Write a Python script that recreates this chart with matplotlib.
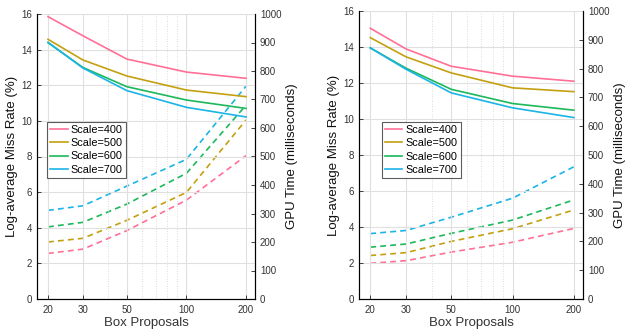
import matplotlib
matplotlib.use("Agg")
import matplotlib.pyplot as plt
from matplotlib.ticker import FixedLocator, NullFormatter

proposals = [20, 30, 50, 100, 200]
labels = ["Scale=400", "Scale=500", "Scale=600", "Scale=700"]
colors = ["#ff6f96", "#c4a010", "#1cb85a", "#1ab4e6"]

# left panel
miss_a = [
    [15.85, 14.78, 13.47, 12.74, 12.39],
    [14.58, 13.42, 12.52, 11.73, 11.36],
    [14.39, 13.00, 11.92, 11.17, 10.70],
    [14.41, 12.97, 11.70, 10.76, 10.22],
]
gpu_a = [
    [160, 175, 240, 347, 503],
    [200, 213, 276, 374, 628],
    [253, 269, 333, 441, 680],
    [311, 327, 396, 490, 747],
]
# right panel
miss_b = [
    [15.04, 13.89, 12.93, 12.38, 12.10],
    [14.52, 13.45, 12.56, 11.73, 11.52],
    [13.95, 12.82, 11.65, 10.86, 10.49],
    [13.95, 12.76, 11.45, 10.62, 10.08],
]
gpu_b = [
    [124, 133, 163, 197, 245],
    [151, 161, 200, 244, 309],
    [180, 191, 228, 274, 344],
    [227, 238, 284, 350, 459],
]

plt.rcParams['font.family'] = ['Liberation Sans', 'DejaVu Sans']

fig = plt.figure(figsize=(6.25, 3.32), dpi=100)
rects = [
    [37/625, 33/332, 218/625, 285/332],
    [359/625, 33/332, 224/625, 288/332],
]
legend_pos = [(0.046, 0.425), (0.101, 0.42)]

for rect, miss, gpu, lp in zip(rects, [miss_a, miss_b], [gpu_a, gpu_b], legend_pos):
    ax = fig.add_axes(rect)
    ax2 = ax.twinx()
    ax.set_xscale('log')
    ax.set_xlim(17.6, 222)
    ax.set_ylim(0, 16)
    ax2.set_ylim(0, 1000)
    handles = []
    for i in range(4):
        h, = ax.plot(proposals, miss[i], color=colors[i], lw=1.2, label=labels[i])
        handles.append(h)
        ax2.plot(proposals, gpu[i], color=colors[i], lw=1.2, ls=(0, (3.5, 2.5)))
    ax.xaxis.set_major_locator(FixedLocator(proposals))
    ax.xaxis.set_minor_locator(FixedLocator([40, 60, 70, 80, 90]))
    ax.xaxis.set_major_formatter(matplotlib.ticker.FixedFormatter([str(p) for p in proposals]))
    ax.xaxis.set_minor_formatter(NullFormatter())
    ax.set_yticks(range(0, 17, 2))
    ax2.set_yticks(range(0, 1001, 100))
    ax.grid(True, which='major', color='#e0e0e0', lw=0.8)
    ax.grid(True, which='minor', axis='x', color='#d0d0d0', lw=0.6, ls=(0, (1, 2)))
    ax.set_axisbelow(True)
    for a in (ax, ax2):
        a.spines['top'].set_visible(False)
        for s in ('left', 'right', 'bottom'):
            a.spines[s].set_linewidth(0.8)
        a.tick_params(direction='in', labelsize=7, length=3, width=0.6,
                      colors='#222222', labelcolor='#333333')
    ax.tick_params(which='minor', length=0)
    ax.tick_params(axis='x', pad=4)
    ax.set_xlabel("Box Proposals", fontsize=9.5, color='#333333', labelpad=2)
    ax.set_ylabel("Log-average Miss Rate (%)", fontsize=9.5, color='#111111', labelpad=2)
    ax2.set_ylabel("GPU Time (milliseconds)", fontsize=9.5, color='#111111', labelpad=3)
    leg = ax.legend(handles=handles, loc='lower left', bbox_to_anchor=lp, fontsize=7.8,
                    frameon=True, fancybox=False, edgecolor='#333333',
                    handlelength=1.6, handletextpad=0.3, borderpad=0.3,
                    labelspacing=0.3, borderaxespad=0)
    leg.get_frame().set_linewidth(0.8)
    leg.set_zorder(10)
    ax.set_zorder(ax2.get_zorder() + 1)
    ax.patch.set_visible(False)

fig.savefig("out.png", dpi=100)
